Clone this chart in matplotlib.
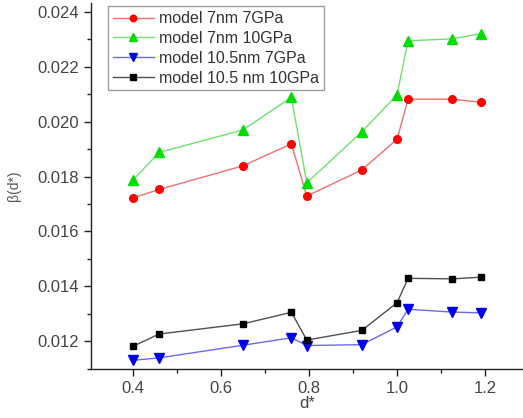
import matplotlib
matplotlib.use("Agg")
import matplotlib.pyplot as plt
from matplotlib.ticker import MultipleLocator

plt.rcParams['font.family'] = ['Liberation Sans', 'DejaVu Sans']

x = [0.40, 0.46, 0.65, 0.76, 0.795, 0.92, 1.00, 1.025, 1.125, 1.19]
red_7nm_7gpa = [0.01722, 0.01753, 0.01839, 0.01919, 0.01729, 0.01824, 0.01936, 0.02082, 0.02082, 0.02071]
green_7nm_10gpa = [0.01787, 0.01888, 0.01970, 0.02089, 0.01777, 0.01963, 0.02098, 0.02295, 0.02302, 0.02321]
blue_105nm_7gpa = [0.01130, 0.01139, 0.01185, 0.01212, 0.01184, 0.01187, 0.01252, 0.01316, 0.01306, 0.01303]
black_105nm_10gpa = [0.01181, 0.01226, 0.01263, 0.01305, 0.01204, 0.01239, 0.01340, 0.01429, 0.01427, 0.01433]
labels = ["model 7nm 7GPa", "model 7nm 10GPa", "model 10.5nm 7GPa", "model 10.5 nm 10GPa"]

fig = plt.figure(figsize=(5.23, 4.18), dpi=100)
ax = fig.add_axes([0.174, 0.117, 0.826, 0.876])

ax.plot(x, red_7nm_7gpa, color='#f07070', lw=1.0, marker='o', ms=5.5,
        mfc='#ff0000', mec='#ff0000', label=labels[0])
ax.plot(x, green_7nm_10gpa, color='#70e070', lw=1.0, marker='^', ms=6.5,
        mfc='#00dd00', mec='#00dd00', label=labels[1])
ax.plot(x, blue_105nm_7gpa, color='#6a6af0', lw=1.0, marker='v', ms=6.5,
        mfc='#0000ee', mec='#0000ee', label=labels[2])
ax.plot(x, black_105nm_10gpa, color='#505050', lw=1.0, marker='s', ms=4.8,
        mfc='#000000', mec='#000000', label=labels[3])

ax.set_xlim(0.305, 1.286)
ax.set_ylim(0.01098, 0.02433)
ax.xaxis.set_minor_locator(MultipleLocator(0.1))
ax.yaxis.set_minor_locator(MultipleLocator(0.001))
ax.set_xticks([0.4, 0.6, 0.8, 1.0, 1.2])
ax.set_xticklabels(['0.4', '0.6', '0.8', '1.0', '1.2'])
ax.set_yticks([0.012, 0.014, 0.016, 0.018, 0.020, 0.022, 0.024])
ax.set_yticklabels(['0.012', '0.014', '0.016', '0.018', '0.020', '0.022', '0.024'])

for s in ['top', 'right']:
    ax.spines[s].set_visible(False)
for s in ['left', 'bottom']:
    ax.spines[s].set_color('#222222')
    ax.spines[s].set_linewidth(1.0)
ax.tick_params(which='major', direction='out', length=5, width=1, labelsize=12,
               colors='#222222', labelcolor='#444444')
ax.tick_params(which='minor', direction='out', length=3, width=1, colors='#222222')

ax.set_xlabel('d*', fontsize=12, color='#444444', labelpad=0)
ax.set_ylabel('β(d*)', fontsize=10, color='#555555', labelpad=12)

leg = ax.legend(loc='upper left', bbox_to_anchor=(0.035, 0.995), fontsize=11.5,
                labelspacing=0.3, handlelength=2.6, handletextpad=0.3,
                borderpad=0.3, frameon=True, fancybox=False, borderaxespad=0.1,
                markerscale=0.85)
leg.get_frame().set_edgecolor('#888888')
leg.get_frame().set_linewidth(1.0)
for t in leg.get_texts():
    t.set_color('#333333')

fig.savefig('out.png', dpi=100)
